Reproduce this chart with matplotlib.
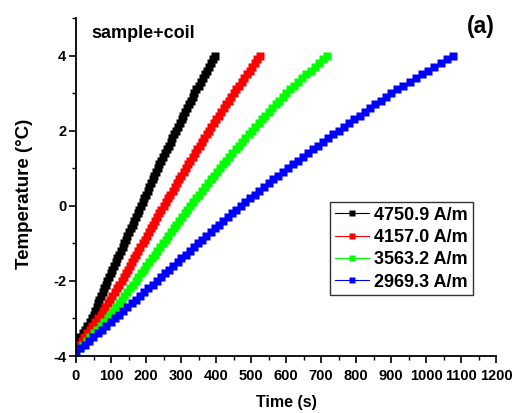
import matplotlib
matplotlib.use("Agg")
import matplotlib.pyplot as plt
from matplotlib.ticker import MultipleLocator

plt.rcParams['font.family'] = ['Liberation Sans', 'DejaVu Sans']
plt.rcParams['font.weight'] = 'bold'
plt.rcParams['axes.unicode_minus'] = False

# temperature readings, 0.1 C steps (C)
temp_c = [-3.9, -3.8, -3.7, -3.6, -3.5, -3.4, -3.3, -3.2, -3.1, -3.0,
          -2.9, -2.8, -2.7, -2.6, -2.5, -2.4, -2.3, -2.2, -2.1, -2.0,
          -1.9, -1.8, -1.7, -1.6, -1.5, -1.4, -1.3, -1.2, -1.1, -1.0,
          -0.9, -0.8, -0.7, -0.6, -0.5, -0.4, -0.3, -0.2, -0.1, 0.0,
          0.1, 0.2, 0.3, 0.4, 0.5, 0.6, 0.7, 0.8, 0.9, 1.0,
          1.1, 1.2, 1.3, 1.4, 1.5, 1.6, 1.7, 1.8, 1.9, 2.0,
          2.1, 2.2, 2.3, 2.4, 2.5, 2.6, 2.7, 2.8, 2.9, 3.0,
          3.1, 3.2, 3.3, 3.4, 3.5, 3.6, 3.7, 3.8, 3.9, 4.0]

# time (s) at which each temperature was reached
t_4750 = [5, 12, 19, 26, 32, 39, 45,
          50, 54, 59, 63, 67, 72, 76, 80, 85, 89,
          94, 99, 104, 109, 114, 118, 123, 128, 133, 138,
          143, 147, 152, 157, 162, 166, 171, 176, 181, 186,
          191, 195, 200, 205, 209, 214, 219, 224, 228, 233,
          238, 244, 249, 254, 260, 265, 270, 275, 281, 286,
          291, 296, 302, 307, 312, 317, 322, 328, 333, 338,
          344, 350, 356, 362, 368, 373, 379, 385, 391, 397]

t_4157 = [8, 16, 23, 31, 39, 46, 54, 62,
          71, 77, 84, 90, 97, 104, 110, 117, 123, 130,
          136, 142, 148, 154, 160, 166, 172, 178, 184, 190,
          196, 202, 208, 214, 220, 226, 232, 238, 244, 250,
          256, 263, 269, 276, 282, 288, 295, 301, 308, 314,
          321, 327, 334, 340, 347, 354, 360, 367, 373, 380,
          387, 394, 401, 408, 415, 422, 429, 436, 443, 450,
          458, 465, 473, 480, 488, 496, 503, 511, 518, 526]

t_3563 = [10, 20, 30, 40, 50, 60, 70, 80, 90,
          98, 106, 114, 122, 130, 138, 146, 154, 162, 170,
          178, 186, 193, 201, 209, 217, 225, 232, 240, 248,
          256, 264, 271, 279, 287, 295, 303, 310, 318, 326,
          334, 343, 351, 360, 368, 376, 385, 393, 402, 410,
          419, 428, 437, 447, 456, 465, 474, 483, 493, 502,
          512, 522, 531, 541, 551, 561, 571, 580, 590, 600,
          611, 623, 635, 647, 658, 670, 682, 694, 705, 717]

t_2969 = [0, 12, 25, 37, 49, 62, 74, 86, 99, 111,
          123, 135, 147, 159, 171, 183, 195, 207, 219, 231,
          243, 255, 266, 278, 290, 301, 313, 325, 336, 348,
          360, 372, 385, 397, 409, 421, 433, 446, 458, 470,
          483, 497, 510, 524, 537, 551, 564, 578, 591, 605,
          619, 634, 648, 663, 677, 692, 706, 721, 735, 750,
          765, 780, 795, 810, 825, 840, 855, 870, 885, 900,
          918, 935, 953, 971, 989, 1006, 1024, 1042, 1059, 1077]

labels = ['4750.9 A/m', '4157.0 A/m', '3563.2 A/m', '2969.3 A/m']
colors = ['#000000', '#ff0000', '#00ff00', '#0000ff']
times = [t_4750, t_4157, t_3563, t_2969]
temps = [temp_c[3:], temp_c[2:], temp_c[1:], temp_c]

fig = plt.figure(figsize=(5.16, 4.13), dpi=100)
ax = fig.add_axes([76/516, 1 - 356/413, 420/516, 338/413])

for t, y, c, lab in zip(times, temps, colors, labels):
    ax.plot(t, y, '-s', color=c, lw=0.8, ms=5.6, mec='none', label=lab)

ax.set_xlim(0, 1200)
ax.set_ylim(-4, 5)
ax.xaxis.set_major_locator(MultipleLocator(100))
ax.xaxis.set_minor_locator(MultipleLocator(50))
ax.set_yticks([-4, -2, 0, 2, 4])
ax.yaxis.set_minor_locator(MultipleLocator(1))

for s in ['top', 'right']:
    ax.spines[s].set_visible(False)
for s in ['left', 'bottom']:
    ax.spines[s].set_linewidth(1.3)

ax.tick_params(which='major', direction='out', length=5, width=1.2,
               labelsize=10.5, pad=2)
ax.tick_params(which='minor', direction='out', length=3, width=1.0)
ax.tick_params(axis='x', which='major', pad=4)
for lbl in ax.get_xticklabels() + ax.get_yticklabels():
    lbl.set_fontweight('bold')

ax.set_xlabel('Time (s)', fontsize=11.5, fontweight='bold')
ax.set_ylabel('Temperature (\u00b0C)', fontsize=13.5, fontweight='bold')
ax.xaxis.set_label_coords(0.5, -0.115)
ax.yaxis.set_label_coords(-0.103, 0.48)

ax.text(0.036, 0.955, 'sample+coil', transform=ax.transAxes,
        fontsize=13, fontweight='bold', ha='left', va='center')
fig.text(481/516, 1 - 26/413, '(a)', fontsize=16.5, fontweight='bold',
         ha='center', va='center')

leg = ax.legend(loc='upper left', bbox_to_anchor=(330/516, 1 - 202/413),
                bbox_transform=fig.transFigure, fontsize=13, frameon=True,
                fancybox=False, edgecolor='black', borderpad=0.25,
                handlelength=1.9, handletextpad=0.3, labelspacing=0.3,
                markerscale=0.75, borderaxespad=0)
leg.get_frame().set_linewidth(1.0)
for txt in leg.get_texts():
    txt.set_fontweight('bold')

fig.savefig('out.png', dpi=100)
